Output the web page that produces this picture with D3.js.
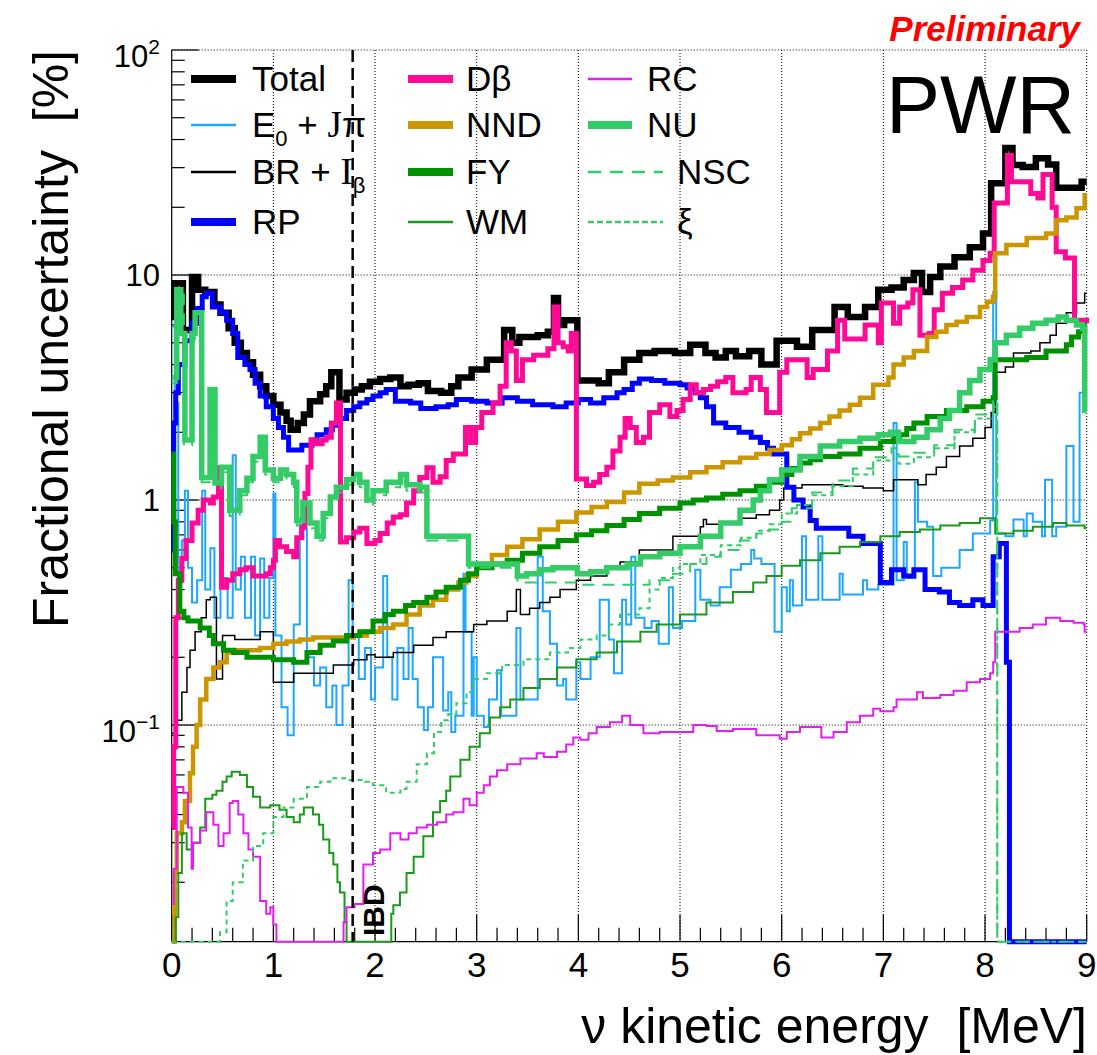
<!DOCTYPE html>
<html><head><meta charset="utf-8">
<script src="https://cdn.jsdelivr.net/npm/d3@7"></script>
<style>
body{margin:0;background:#fff}
svg{display:block}
text{font-family:"Liberation Sans",Arial,Helvetica,sans-serif}
</style>
</head><body>
<svg id="c" width="1097" height="1055"></svg>
<script>
// ---------------- data (energy bin start [MeV], fractional uncertainty [%]) ----------------
const xTickValues = [0,1,2,3,4,5,6,7,8,9];
const yMajorTicks = [0.1,1,10,100];
const yTickLabels = [["10","−1"],["1",null],["10",null],["10","2"]];

const total = [[0,6.5],[0.03,9.2],[0.11,5.7],[0.2,9.8],[0.26,8.6],[0.33,8.4],[0.42,7.4],[0.48,6.8],[0.56,5.8],[0.62,5.0],[0.68,4.5],[0.74,4.1],[0.8,3.6],[0.87,3.2],[0.93,2.9],[1.0,2.65],[1.07,2.45],[1.13,2.25],[1.17,2.05],[1.24,2.2],[1.3,2.4],[1.36,2.75],[1.46,2.95],[1.52,3.2],[1.57,3.7],[1.65,2.8],[1.72,3.0],[1.8,3.1],[1.87,3.2],[1.95,3.35],[2.05,3.45],[2.15,3.5],[2.25,3.2],[2.33,3.25],[2.43,3.3],[2.52,3.05],[2.65,3.0],[2.75,3.2],[2.82,3.5],[2.95,3.8],[3.1,4.2],[3.27,5.7],[3.35,5.0],[3.42,5.3],[3.6,5.4],[3.7,5.6],[3.76,7.9],[3.8,6.0],[3.86,6.3],[3.99,3.4],[4.2,3.3],[4.3,3.7],[4.45,4.2],[4.6,4.5],[4.75,4.6],[4.95,4.5],[5.1,4.9],[5.25,4.5],[5.35,4.3],[5.45,4.6],[5.55,4.35],[5.68,4.6],[5.8,4.0],[5.95,5.1],[6.15,4.8],[6.3,5.7],[6.52,7.2],[6.65,6.5],[6.82,7.2],[6.95,8.6],[7.08,8.8],[7.2,9.5],[7.3,10.2],[7.38,8.4],[7.46,9.8],[7.56,10.9],[7.7,12.0],[7.85,13.3],[7.98,15.3],[8.06,25.6],[8.2,36.7],[8.27,30.8],[8.37,30.2],[8.5,33],[8.62,31],[8.7,24.4],[8.95,26],[9,26]];

const e0Jpi = [[0,5.9],[0.03,2.7],[0.065,0.43],[0.1,0.66],[0.13,1.1],[0.16,0.5],[0.2,0.35],[0.25,0.44],[0.3,1.1],[0.33,0.4],[0.38,0.61],[0.42,0.3],[0.48,0.45],[0.55,0.3],[0.6,1.58],[0.63,0.4],[0.68,0.56],[0.72,0.3],[0.78,0.56],[0.82,0.25],[0.87,0.55],[0.91,0.3],[0.96,0.45],[1.0,1.07],[1.02,0.25],[1.08,0.12],[1.14,0.09],[1.2,0.28],[1.26,0.8],[1.29,0.74],[1.33,0.2],[1.4,0.15],[1.46,0.18],[1.52,0.12],[1.58,0.15],[1.62,0.1],[1.68,0.15],[1.74,0.44],[1.78,0.25],[1.84,0.16],[1.9,0.22],[1.96,0.13],[2.0,0.18],[2.08,0.46],[2.12,0.2],[2.17,0.13],[2.22,0.22],[2.28,0.16],[2.33,0.27],[2.37,0.16],[2.42,0.12],[2.48,0.095],[2.52,0.12],[2.57,0.2],[2.67,0.116],[2.72,0.14],[2.75,0.093],[2.79,0.11],[2.87,0.47],[2.89,0.26],[2.95,0.11],[2.97,0.2],[3.0,0.11],[3.07,0.098],[3.12,0.13],[3.2,0.175],[3.24,0.11],[3.39,0.27],[3.43,0.13],[3.6,0.56],[3.65,0.32],[3.72,0.23],[3.79,0.15],[3.85,0.16],[3.88,0.13],[3.98,0.19],[4.02,0.16],[4.12,0.2],[4.21,0.36],[4.3,0.24],[4.35,0.17],[4.43,0.36],[4.47,0.28],[4.52,0.56],[4.56,0.3],[4.65,0.27],[4.72,0.29],[4.79,0.23],[4.89,0.41],[4.93,0.27],[5.02,0.29],[5.15,0.49],[5.2,0.36],[5.3,0.34],[5.39,0.41],[5.5,0.49],[5.6,0.52],[5.7,0.6],[5.73,0.55],[5.8,0.52],[5.93,0.26],[6.0,0.41],[6.05,0.32],[6.08,0.44],[6.11,0.34],[6.2,0.69],[6.24,0.36],[6.36,0.69],[6.4,0.36],[6.57,0.47],[6.6,0.38],[6.8,0.44],[6.84,0.4],[6.95,0.42],[7.1,2.2],[7.13,0.44],[7.2,0.65],[7.23,0.45],[7.31,1.2],[7.34,0.8],[7.43,0.76],[7.49,0.46],[7.57,0.5],[7.75,0.6],[7.88,0.71],[8.05,0.81],[8.08,8.4],[8.11,0.71],[8.2,0.69],[8.28,0.82],[8.38,0.69],[8.41,0.87],[8.47,0.8],[8.56,0.69],[8.59,1.23],[8.66,0.69],[8.7,0.76],[8.8,1.74],[8.87,0.8],[8.93,3.0],[9,3.0]];

const brIb = [[0,0.092],[0.05,0.105],[0.1,0.14],[0.15,0.18],[0.18,0.215],[0.23,0.26],[0.29,0.3],[0.34,0.36],[0.38,0.37],[0.44,0.16],[0.5,0.25],[0.62,0.24],[0.87,0.26],[1.0,0.155],[1.2,0.17],[1.4,0.17],[1.59,0.185],[1.79,0.195],[1.92,0.205],[2.0,0.2],[2.18,0.21],[2.38,0.226],[2.57,0.245],[2.7,0.26],[2.84,0.26],[2.97,0.28],[3.1,0.29],[3.3,0.32],[3.39,0.4],[3.43,0.31],[3.52,0.33],[3.62,0.35],[3.72,0.37],[3.82,0.4],[3.98,0.44],[4.12,0.46],[4.28,0.51],[4.41,0.53],[4.6,0.6],[4.93,0.69],[5.2,0.76],[5.23,0.82],[5.26,0.78],[5.43,0.79],[5.59,0.83],[5.75,0.86],[5.88,0.9],[5.98,1.0],[6.02,1.13],[6.2,1.17],[6.6,1.15],[6.8,1.13],[7.0,1.1],[7.1,1.23],[7.34,1.17],[7.42,1.3],[7.52,1.4],[7.62,1.56],[7.75,1.74],[7.88,1.88],[8.0,2.1],[8.06,2.45],[8.1,3.7],[8.2,3.9],[8.28,4.5],[8.45,4.6],[8.54,5.0],[8.64,5.4],[8.7,6.1],[8.8,6.8],[8.9,7.5],[8.98,8.3],[9,8.3]];

const rp = [[0,0.6],[0.02,2.2],[0.04,3.0],[0.065,4.0],[0.13,5.1],[0.2,6.1],[0.245,7.1],[0.3,8.0],[0.34,8.3],[0.4,7.2],[0.48,6.8],[0.54,6.3],[0.6,5.5],[0.65,4.3],[0.72,4.0],[0.77,3.8],[0.82,3.3],[0.87,2.9],[0.93,2.6],[1.0,2.3],[1.05,2.1],[1.1,1.9],[1.15,1.67],[1.28,1.75],[1.38,1.85],[1.43,1.95],[1.52,2.05],[1.58,2.15],[1.66,2.3],[1.72,2.5],[1.79,2.6],[1.85,2.7],[1.92,2.8],[1.98,2.9],[2.05,3.0],[2.11,3.1],[2.2,2.75],[2.35,2.7],[2.45,2.55],[2.6,2.6],[2.72,2.65],[2.8,2.8],[2.95,2.75],[3.1,2.7],[3.25,2.85],[3.4,2.75],[3.55,2.65],[3.75,2.6],[3.88,2.7],[4.0,2.8],[4.12,2.7],[4.25,2.85],[4.38,3.0],[4.45,3.1],[4.53,3.3],[4.6,3.45],[4.72,3.4],[4.85,3.3],[5.0,3.25],[5.07,3.15],[5.15,3.0],[5.2,2.85],[5.26,2.6],[5.33,2.2],[5.45,2.1],[5.58,2.0],[5.7,1.9],[5.79,1.8],[5.86,1.7],[5.92,1.6],[6.05,1.14],[6.12,1.0],[6.21,0.93],[6.28,0.81],[6.34,0.75],[6.66,0.69],[6.8,0.64],[6.97,0.43],[7.08,0.49],[7.2,0.46],[7.3,0.49],[7.41,0.4],[7.55,0.39],[7.65,0.35],[7.75,0.34],[7.88,0.36],[7.98,0.34],[8.08,0.56],[8.14,0.64],[8.21,0.19],[8.24,0],[9,0]];

const dBeta = [[0,0.035],[0.02,0.08],[0.04,0.3],[0.065,0.44],[0.1,0.55],[0.14,0.66],[0.2,0.79],[0.26,0.9],[0.31,1.0],[0.38,0.97],[0.41,1.03],[0.46,1.39],[0.49,0.41],[0.54,0.44],[0.6,0.47],[0.67,0.49],[0.73,0.5],[0.8,0.46],[0.93,0.47],[0.97,0.5],[1.0,0.54],[1.02,0.66],[1.06,0.62],[1.13,0.59],[1.2,0.56],[1.23,0.68],[1.28,0.76],[1.31,1.07],[1.34,1.4],[1.37,1.85],[1.42,1.78],[1.48,1.85],[1.52,1.9],[1.57,2.2],[1.62,2.7],[1.66,0.65],[1.72,0.68],[1.79,0.72],[1.85,0.75],[1.92,0.64],[2.0,0.66],[2.05,0.71],[2.12,0.79],[2.18,0.84],[2.25,0.86],[2.31,0.97],[2.38,1.1],[2.44,1.26],[2.51,1.39],[2.57,1.2],[2.64,1.27],[2.7,1.5],[2.77,1.6],[2.89,2.1],[2.94,1.8],[2.99,2.1],[3.05,2.45],[3.16,2.7],[3.23,3.2],[3.29,5.0],[3.34,4.6],[3.39,3.4],[3.45,4.2],[3.56,4.4],[3.7,4.7],[3.76,7.2],[3.8,5.0],[3.85,4.8],[3.9,4.6],[3.93,5.5],[3.98,1.24],[4.08,1.16],[4.15,1.2],[4.21,1.3],[4.28,1.4],[4.34,1.65],[4.41,1.9],[4.46,2.3],[4.51,2.1],[4.57,1.8],[4.64,1.9],[4.7,2.45],[4.8,2.65],[4.9,2.35],[4.97,2.5],[5.03,2.8],[5.1,3.25],[5.16,3.0],[5.23,3.1],[5.3,3.2],[5.37,3.35],[5.45,3.5],[5.52,3.0],[5.65,3.1],[5.7,3.5],[5.79,3.1],[5.85,2.45],[5.98,3.7],[6.05,4.2],[6.25,3.5],[6.31,3.8],[6.45,4.6],[6.55,6.3],[6.62,5.2],[6.82,6.0],[6.95,5.0],[6.98,7.5],[7.1,6.1],[7.16,7.2],[7.24,7.5],[7.29,8.6],[7.36,5.4],[7.45,5.5],[7.5,7.0],[7.58,8.3],[7.68,8.8],[7.78,9.5],[7.88,10.5],[7.98,11.6],[8.05,12.5],[8.09,20.9],[8.22,34],[8.26,26],[8.45,23],[8.52,22],[8.57,28],[8.66,20],[8.7,12.7],[8.79,11.9],[8.88,6.3],[9,6.1]];

const nnd = [[0,0],[0.03,0.022],[0.05,0.033],[0.1,0.037],[0.13,0.046],[0.18,0.061],[0.21,0.08],[0.245,0.1],[0.28,0.13],[0.34,0.16],[0.41,0.18],[0.475,0.19],[0.54,0.21],[0.64,0.215],[0.87,0.22],[1.0,0.23],[1.13,0.235],[1.26,0.24],[1.39,0.245],[1.79,0.25],[1.92,0.26],[2.05,0.27],[2.18,0.28],[2.31,0.31],[2.44,0.34],[2.57,0.36],[2.7,0.4],[2.82,0.43],[2.9,0.46],[3.0,0.52],[3.15,0.57],[3.3,0.62],[3.45,0.67],[3.62,0.74],[3.8,0.8],[3.98,0.88],[4.13,0.93],[4.28,0.98],[4.45,1.08],[4.6,1.18],[4.78,1.22],[4.93,1.26],[5.1,1.33],[5.26,1.4],[5.42,1.47],[5.59,1.54],[5.75,1.6],[5.88,1.67],[6.0,1.75],[6.1,1.86],[6.18,1.98],[6.28,2.08],[6.38,2.2],[6.47,2.35],[6.57,2.5],[6.67,2.65],[6.77,2.85],[6.9,3.25],[7.05,3.5],[7.1,4.0],[7.2,4.3],[7.3,4.6],[7.43,5.3],[7.52,5.6],[7.62,6.0],[7.72,6.2],[7.82,6.5],[7.95,7.2],[8.02,7.6],[8.08,8.0],[8.1,12.5],[8.21,13.6],[8.41,14.6],[8.6,15.3],[8.7,17.5],[8.8,18],[8.9,19.8],[8.98,22.6],[9,22.6]];

const fy = [[0,1.6],[0.02,0.8],[0.035,0.47],[0.08,0.32],[0.12,0.3],[0.16,0.29],[0.28,0.27],[0.37,0.25],[0.41,0.23],[0.51,0.215],[0.61,0.21],[0.74,0.2],[1.0,0.195],[1.2,0.19],[1.33,0.21],[1.46,0.226],[1.59,0.236],[1.72,0.25],[1.85,0.26],[1.98,0.29],[2.1,0.31],[2.18,0.32],[2.3,0.34],[2.38,0.35],[2.51,0.37],[2.6,0.39],[2.7,0.41],[2.84,0.44],[2.92,0.47],[3.0,0.5],[3.15,0.52],[3.3,0.54],[3.45,0.58],[3.62,0.62],[3.8,0.66],[3.98,0.7],[4.13,0.73],[4.28,0.77],[4.45,0.82],[4.6,0.87],[4.8,0.92],[5.0,0.97],[5.13,1.0],[5.26,1.02],[5.42,1.06],[5.59,1.1],[5.75,1.15],[5.88,1.2],[6.0,1.3],[6.1,1.38],[6.18,1.46],[6.28,1.51],[6.38,1.56],[6.57,1.6],[6.77,1.7],[6.97,1.82],[7.1,1.88],[7.16,1.95],[7.23,2.08],[7.3,2.2],[7.43,2.35],[7.62,2.5],[7.82,2.6],[7.98,2.75],[8.08,2.85],[8.1,4.2],[8.3,4.2],[8.41,4.3],[8.6,4.6],[8.72,4.6],[8.8,4.9],[8.85,5.3],[8.92,5.6],[8.98,6.0],[9,6.0]];

const wm = [[0,0],[0.04,0.014],[0.065,0.022],[0.1,0.033],[0.147,0.028],[0.21,0.03],[0.28,0.035],[0.33,0.047],[0.4,0.049],[0.44,0.051],[0.5,0.056],[0.54,0.059],[0.59,0.062],[0.67,0.06],[0.74,0.053],[0.8,0.048],[0.87,0.043],[0.97,0.044],[1.06,0.042],[1.13,0.039],[1.2,0.037],[1.26,0.04],[1.3,0.043],[1.39,0.04],[1.45,0.036],[1.49,0.031],[1.55,0.027],[1.59,0.024],[1.63,0.02],[1.655,0.018],[1.7,0.0133],[1.72,0],[2.16,0.0145],[2.18,0.0158],[2.245,0.018],[2.31,0.022],[2.38,0.026],[2.475,0.032],[2.57,0.041],[2.64,0.046],[2.7,0.051],[2.74,0.059],[2.84,0.07],[2.93,0.08],[3.03,0.092],[3.13,0.108],[3.23,0.12],[3.33,0.13],[3.46,0.146],[3.62,0.16],[3.79,0.18],[3.98,0.196],[4.18,0.21],[4.38,0.235],[4.61,0.26],[4.77,0.28],[5.0,0.31],[5.26,0.35],[5.52,0.39],[5.72,0.43],[5.85,0.46],[6.0,0.51],[6.18,0.54],[6.38,0.58],[6.57,0.62],[6.77,0.65],[6.97,0.69],[7.16,0.72],[7.36,0.74],[7.56,0.77],[7.75,0.79],[7.95,0.83],[8.1,0.71],[8.28,0.73],[8.47,0.76],[8.67,0.79],[8.8,0.77],[8.98,0.75],[9,0.75]];

const rc = [[0,0.016],[0.02,0.023],[0.05,0.053],[0.115,0.05],[0.16,0.035],[0.196,0.023],[0.21,0.03],[0.28,0.034],[0.34,0.041],[0.41,0.036],[0.46,0.029],[0.51,0.033],[0.57,0.045],[0.6,0.046],[0.655,0.04],[0.705,0.033],[0.755,0.028],[0.8,0.026],[0.87,0.0165],[0.93,0.0145],[0.97,0.0155],[1.0,0.013],[1.03,0],[1.69,0.0133],[1.72,0.0155],[1.8,0.016],[1.885,0.024],[1.98,0.027],[2.05,0.028],[2.15,0.033],[2.25,0.031],[2.33,0.033],[2.41,0.035],[2.51,0.036],[2.61,0.037],[2.7,0.04],[2.77,0.041],[2.87,0.047],[2.93,0.044],[3.0,0.05],[3.07,0.054],[3.13,0.059],[3.2,0.063],[3.3,0.067],[3.43,0.071],[3.59,0.075],[3.66,0.072],[3.79,0.076],[3.88,0.082],[3.95,0.088],[4.02,0.086],[4.1,0.092],[4.18,0.098],[4.31,0.103],[4.43,0.11],[4.51,0.1],[4.64,0.092],[4.8,0.093],[5.0,0.093],[5.13,0.1],[5.26,0.099],[5.36,0.094],[5.52,0.096],[5.75,0.09],[5.98,0.087],[6.05,0.093],[6.18,0.098],[6.39,0.088],[6.51,0.093],[6.64,0.103],[6.77,0.11],[6.9,0.118],[6.97,0.115],[7.1,0.12],[7.13,0.13],[7.33,0.14],[7.39,0.132],[7.56,0.136],[7.69,0.142],[7.82,0.155],[7.95,0.16],[8.05,0.17],[8.08,0.19],[8.1,0.26],[8.34,0.27],[8.47,0.28],[8.6,0.3],[8.74,0.29],[8.87,0.285],[8.97,0.28],[8.98,0.26],[9,0.26]];

const nu = [[0,3.5],[0.05,8.6],[0.09,5.5],[0.13,1.85],[0.2,5.5],[0.23,6.8],[0.295,1.26],[0.377,3.1],[0.426,1.19],[0.49,1.4],[0.57,0.9],[0.67,1.1],[0.74,1.25],[0.8,1.56],[0.87,1.9],[0.92,1.36],[1.0,1.25],[1.07,1.36],[1.13,1.3],[1.2,1.2],[1.23,0.81],[1.29,0.97],[1.36,0.79],[1.43,0.69],[1.49,0.87],[1.56,1.03],[1.62,1.14],[1.72,1.23],[1.79,1.3],[1.85,1.2],[1.92,1.0],[1.98,1.1],[2.11,1.2],[2.25,1.3],[2.31,1.17],[2.44,1.14],[2.51,0.69],[2.92,0.52],[3.4,0.46],[3.49,0.47],[3.62,0.49],[3.75,0.5],[3.99,0.47],[4.12,0.48],[4.28,0.5],[4.48,0.52],[4.61,0.56],[4.8,0.58],[5.0,0.62],[5.2,0.69],[5.4,0.79],[5.59,0.9],[5.72,1.0],[5.79,1.1],[5.88,1.23],[6.0,1.36],[6.18,1.56],[6.38,1.74],[6.57,1.82],[6.77,1.88],[6.95,1.95],[7.07,2.0],[7.15,1.82],[7.3,1.9],[7.43,2.05],[7.56,2.3],[7.65,2.5],[7.75,3.0],[7.85,3.4],[7.95,3.8],[8.05,4.2],[8.1,5.0],[8.21,5.4],[8.34,5.8],[8.47,6.1],[8.6,6.3],[8.72,6.5],[8.8,6.3],[8.9,6.0],[8.96,5.8],[8.98,2.5],[9,2.5]];

const nsc = [[0,3.3],[0.05,8.2],[0.12,1.75],[0.2,5.2],[0.23,6.5],[0.295,1.2],[0.377,2.9],[0.426,1.13],[0.49,1.33],[0.57,0.85],[0.67,1.05],[0.74,1.2],[0.8,1.48],[0.87,1.8],[0.92,1.3],[1.0,1.2],[1.07,1.3],[1.13,1.23],[1.2,1.14],[1.23,0.77],[1.29,0.92],[1.36,0.75],[1.43,0.66],[1.49,0.83],[1.56,0.98],[1.62,1.08],[1.72,1.17],[1.79,1.23],[1.85,1.14],[1.92,0.95],[1.98,1.05],[2.11,1.14],[2.25,1.23],[2.31,1.1],[2.44,1.08],[2.51,0.66],[2.92,0.5],[3.4,0.43],[3.99,0.42],[4.6,0.42],[4.7,0.44],[4.93,0.47],[5.1,0.52],[5.26,0.56],[5.4,0.6],[5.59,0.66],[5.75,0.71],[5.88,0.74],[6.0,0.8],[6.1,0.92],[6.3,1.08],[6.5,1.22],[6.7,1.38],[6.9,1.55],[7.08,1.7],[7.15,1.56],[7.3,1.62],[7.5,1.75],[7.7,2.05],[7.9,2.4],[8.08,2.8],[8.12,0],[9,0]];

const xi = [[0,0],[0.475,0.012],[0.54,0.0165],[0.6,0.02],[0.7,0.025],[0.8,0.029],[0.9,0.033],[1.0,0.039],[1.1,0.043],[1.2,0.047],[1.33,0.053],[1.46,0.056],[1.56,0.058],[1.72,0.057],[1.9,0.056],[1.98,0.054],[2.11,0.05],[2.25,0.052],[2.31,0.056],[2.41,0.067],[2.51,0.075],[2.58,0.093],[2.65,0.105],[2.72,0.112],[2.8,0.125],[2.9,0.14],[2.97,0.16],[3.1,0.17],[3.25,0.185],[3.46,0.196],[3.72,0.21],[3.9,0.22],[4.02,0.24],[4.18,0.25],[4.3,0.28],[4.41,0.31],[4.6,0.33],[4.7,0.4],[4.8,0.45],[4.93,0.5],[5.0,0.52],[5.2,0.57],[5.4,0.63],[5.6,0.68],[5.75,0.73],[5.88,0.78],[6.0,0.87],[6.15,0.95],[6.3,1.05],[6.5,1.15],[6.7,1.3],[6.9,1.5],[7.1,1.6],[7.15,1.45],[7.3,1.55],[7.5,1.7],[7.7,2.0],[7.9,2.3],[8.08,2.6],[8.12,0],[9,0]];

const ibdThreshold = 1.78;

// ---------------- layout ----------------
const W = 1097, H = 1055;
const X0 = 171.7, X1 = 1086.7, Y0 = 50, Y1 = 941.7;
const yMin = Math.pow(10, -1.963), yMax = 100;

const svg = d3.select("#c");
svg.append("rect").attr("width",W).attr("height",H).attr("fill","#fff");

const x = d3.scaleLinear().domain([0,9]).range([X0,X1]);
const y = d3.scaleLog().domain([yMin,yMax]).range([Y1,Y0]);

// grid (dotted)
const grid = svg.append("g").attr("stroke","#000").attr("stroke-width",1).attr("stroke-dasharray","1,2");
xTickValues.filter(v=>v>0).forEach(v=>{
  grid.append("line").attr("x1",x(v)).attr("x2",x(v)).attr("y1",Y0).attr("y2",Y1);
});
yMajorTicks.forEach(v=>{
  grid.append("line").attr("x1",X0).attr("x2",X1).attr("y1",y(v)).attr("y2",y(v));
});

// axes lines
const ax = svg.append("g").attr("stroke","#000").attr("stroke-width",1.2);
ax.append("line").attr("x1",X0).attr("x2",X0).attr("y1",Y0).attr("y2",Y1);
ax.append("line").attr("x1",X0).attr("x2",X1).attr("y1",Y1).attr("y2",Y1);

// x ticks
const xMinor = d3.range(0,9.0001,0.2);
xMinor.forEach(v=>{
  const isMajor = Math.abs(v-Math.round(v))<1e-6;
  ax.append("line").attr("x1",x(v)).attr("x2",x(v)).attr("y1",Y1).attr("y2",Y1-(isMajor?27:14));
});
// y ticks
[0.01,0.1,1,10].forEach(dec=>{
  for(let m=1;m<=9;m++){
    const v = dec*m;
    if(v<yMin||v>yMax) continue;
    ax.append("line").attr("x1",X0).attr("x2",X0+(m===1?27:13)).attr("y1",y(v)).attr("y2",y(v));
  }
});
ax.append("line").attr("x1",X0).attr("x2",X0+27).attr("y1",y(100)).attr("y2",y(100));

// tick labels
svg.append("g").selectAll("text").data(xTickValues).join("text")
  .attr("x",d=>x(d)).attr("y",977).attr("text-anchor","middle")
  .attr("font-size",35).text(d=>d);

const yl = svg.append("g");
yMajorTicks.forEach((v,i)=>{
  const [base,exp] = yTickLabels[i];
  const t = yl.append("text").attr("x",160).attr("text-anchor","end").attr("font-size",31);
  if(exp){
    t.attr("y",y(v)+17);
    t.append("tspan").text(base);
    t.append("tspan").attr("font-size",21).attr("dy",-13).text(exp);
  } else {
    t.attr("y",y(v)+11).text(base);
  }
});

// axis titles
svg.append("text").attr("transform","translate(68,50) rotate(-90)")
  .attr("text-anchor","end").attr("font-size",50).attr("xml:space","preserve")
  .text("Fractional uncertainty  [%]");
svg.append("text").attr("x",1087).attr("y",1043).attr("text-anchor","end")
  .attr("font-size",50).attr("xml:space","preserve").text("ν kinetic energy  [MeV]");

// ---------------- series ----------------
const series = [
  {key:"total", data:total, color:"#000000", w:6.5, dash:null},
  {key:"e0", data:e0Jpi, color:"#1ea7ff", w:2, dash:null},
  {key:"br", data:brIb, color:"#000000", w:1.5, dash:null},
  {key:"rp", data:rp, color:"#0000ff", w:5, dash:null},
  {key:"db", data:dBeta, color:"#ff0a96", w:5, dash:null},
  {key:"nnd", data:nnd, color:"#cc9600", w:4.5, dash:null},
  {key:"fy", data:fy, color:"#009100", w:5, dash:null},
  {key:"wm", data:wm, color:"#1a9a1a", w:2, dash:null},
  {key:"rc", data:rc, color:"#e020f0", w:2, dash:null},
  {key:"nu", data:nu, color:"#33cc66", w:5.5, dash:null},
  {key:"nsc", data:nsc, color:"#33cc66", w:2, dash:"12,8"},
  {key:"xi", data:xi, color:"#33cc66", w:2, dash:"5,4"}
];

const line = d3.line()
  .x(d=>x(d[0]))
  .y(d=>y(Math.max(d[1],yMin)))
  .curve(d3.curveStepAfter);

const plot = svg.append("g");
series.forEach(s=>{
  plot.append("path").attr("d",line(s.data)).attr("fill","none")
    .attr("stroke",s.color).attr("stroke-width",s.w)
    .attr("stroke-linejoin","miter").attr("stroke-linecap","butt")
    .attr("stroke-dasharray",s.dash);
});

// IBD threshold
svg.append("line").attr("x1",x(ibdThreshold)).attr("x2",x(ibdThreshold)).attr("y1",Y0).attr("y2",Y1)
  .attr("stroke","#000").attr("stroke-width",2.5).attr("stroke-dasharray","12,6");
svg.append("text").attr("transform",`translate(${x(ibdThreshold)+31},936) rotate(-90)`)
  .attr("font-size",30).attr("font-weight","bold").text("IBD");

// ---------------- legend ----------------
const legendCols = [
  {sx0:191, sx1:236, tx:252},
  {sx0:408, sx1:453, tx:466},
  {sx0:588, sx1:632, tx:647}
];
const legendRowsY = [79,125,172,222];
const legendItems = [
  {col:0,row:0,s:"total",label:[["Total"]]},
  {col:0,row:1,s:"e0",label:[["E"],["0","sub"],[" + "],["J","serif"],["π"]]},
  {col:0,row:2,s:"br",label:[["BR + "],["I","serif"],["β","sub"]]},
  {col:0,row:3,s:"rp",label:[["RP"]]},
  {col:1,row:0,s:"db",label:[["Dβ"]]},
  {col:1,row:1,s:"nnd",label:[["NND"]]},
  {col:1,row:2,s:"fy",label:[["FY"]]},
  {col:1,row:3,s:"wm",label:[["WM"]]},
  {col:2,row:0,s:"rc",label:[["RC"]]},
  {col:2,row:1,s:"nu",label:[["NU"]]},
  {col:2,row:2,s:"nsc",label:[["NSC"]],wide:true},
  {col:2,row:3,s:"xi",label:[["ξ"]],wide:true}
];
const leg = svg.append("g");
legendItems.forEach(it=>{
  const s = series.find(d=>d.key===it.s);
  const c = legendCols[it.col];
  const yy = legendRowsY[it.row];
  const sx1 = it.wide ? 663 : c.sx1;
  const tx = it.wide ? 677 : c.tx;
  leg.append("line").attr("x1",c.sx0).attr("x2",sx1).attr("y1",yy).attr("y2",yy)
    .attr("stroke",s.color).attr("stroke-width",s.w>3?8:2.6)
    .attr("stroke-dasharray",s.key==="nsc"?"13,9":(s.key==="xi"?"6,3":null));
  const t = leg.append("text").attr("x",tx).attr("y",yy+12).attr("font-size",35).attr("xml:space","preserve");
  let shifted = 0;
  it.label.forEach(([str,kind])=>{
    const sp = t.append("tspan").text(str);
    if(kind==="sub"){ sp.attr("font-size",22).attr("dy",9); shifted=9; }
    else {
      if(shifted){ sp.attr("dy",-shifted); shifted=0; }
      if(kind==="serif") sp.attr("font-family","'Liberation Serif','Times New Roman',serif").attr("font-size",37);
    }
  });
});

// annotations
svg.append("text").attr("x",1075).attr("y",133).attr("text-anchor","end").attr("font-size",81).text("PWR");
svg.append("text").attr("x",1080).attr("y",41).attr("text-anchor","end").attr("font-size",35)
  .attr("font-weight","bold").attr("font-style","italic").attr("fill","#ff0000").text("Preliminary");
</script>
</body></html>
